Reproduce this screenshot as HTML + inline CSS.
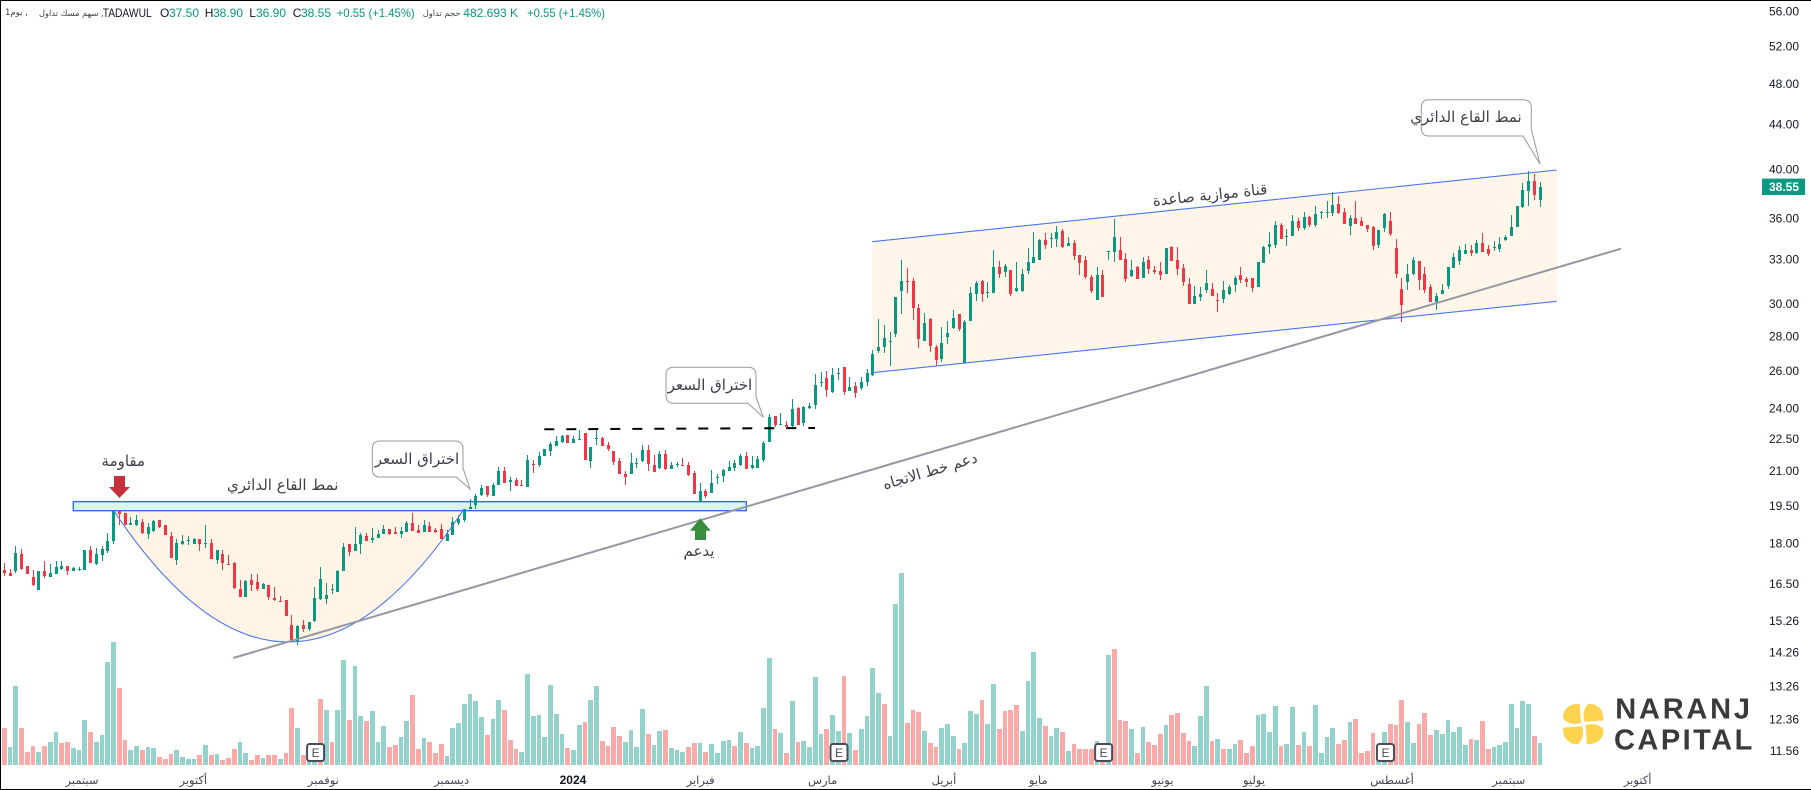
<!DOCTYPE html>
<html lang="ar">
<head>
<meta charset="utf-8">
<title>TADAWUL chart</title>
<style>
html,body{margin:0;padding:0;background:#fff;width:1811px;height:790px;overflow:hidden}
svg{display:block;font-family:"Liberation Sans","DejaVu Sans",sans-serif}
.ar{font-family:"DejaVu Sans","Liberation Sans",sans-serif;fill:#3c3f48}
</style>
</head>
<body>
<svg id="chart" xmlns="http://www.w3.org/2000/svg" width="1811" height="790" viewBox="0 0 1811 790">
  <rect x="0" y="0" width="1811" height="790" fill="#ffffff"/>
  <g id="fills">
    <polygon points="872.3,241.7 1556.7,170 1556.7,301.3 872.3,372.7" fill="#fff6e9"/>
    <path d="M114,511 Q289,774 464,509 Z" fill="#fff4e5"/>
    <rect x="73.3" y="501.7" width="673" height="9" fill="#daf3f8" stroke="#2962ff" stroke-width="1.3"/>
  </g>
  <g id="volumes"></g>
  <g id="candles"></g>
  <g id="drawings">
    <path d="M114,511 Q289,774 464,509" fill="none" stroke="#4a76ee" stroke-width="1.1"/>
    <line x1="872.3" y1="241.7" x2="1556.7" y2="170" stroke="#4a76ee" stroke-width="1.1"/>
    <line x1="872.3" y1="372.7" x2="1556.7" y2="301.3" stroke="#4a76ee" stroke-width="1.1"/>
    <line x1="233.3" y1="658" x2="1621" y2="248.7" stroke="#9598a1" stroke-width="2"/>
    <line x1="544.3" y1="429.3" x2="815" y2="428" stroke="#000000" stroke-width="2" stroke-dasharray="10 12"/>
    <polygon points="114,476 125,476 125,487 130,487 119.5,498 109,487 114,487" fill="#c9303e"/>
    <polygon points="700.3,518.3 710.7,530.7 706,530.7 706,540 695,540 695,530.7 690,530.7" fill="#388e3c"/>
    <path d="M380,441 H455 Q463,441 463,449 V468 L470,489 L456,477 H380 Q372.3,477 372.3,469 V449 Q372.3,441 380,441 Z" fill="none" stroke="#9598a1" stroke-width="1"/>
    <path d="M674,367.3 H748 Q756,367.3 756,375 V396.7 L763.3,417.3 L748,403.3 H674 Q666,403.3 666,395 V375 Q666,367.3 674,367.3 Z" fill="none" stroke="#9598a1" stroke-width="1"/>
    <path d="M1429,99.7 H1523 Q1531.3,99.7 1531.3,108 V129 L1540,164 L1523,136 H1429 Q1421.3,136 1421.3,128 V108 Q1421.3,99.7 1429,99.7 Z" fill="none" stroke="#9598a1" stroke-width="1"/>
    <text class="ar" x="417" y="459" font-size="15" text-anchor="middle" dominant-baseline="central">اختراق السعر</text>
    <text class="ar" x="710" y="385" font-size="15" text-anchor="middle" dominant-baseline="central">اختراق السعر</text>
    <text class="ar" x="1466" y="117" font-size="15" text-anchor="middle" dominant-baseline="central">نمط القاع الدائري</text>
    <text class="ar" x="123.3" y="461" font-size="15" text-anchor="middle" dominant-baseline="central">مقاومة</text>
    <text class="ar" x="282.7" y="485" font-size="15" text-anchor="middle" dominant-baseline="central">نمط القاع الدائري</text>
    <text class="ar" x="699" y="551" font-size="15" text-anchor="middle" dominant-baseline="central">يدعم</text>
    <text class="ar" x="930" y="471" font-size="15" text-anchor="middle" dominant-baseline="central" transform="rotate(-16.4 930 471)">دعم خط الاتجاه</text>
    <text class="ar" x="1210" y="195" font-size="15" text-anchor="middle" dominant-baseline="central" transform="rotate(-6 1210 195)">قناة موازية صاعدة</text>
  </g>
  <g id="earnings"></g>
  <g id="price-axis"></g>
  <g id="time-axis"></g>
  <g font-size="12" fill="#131722">
    <text class="ar" x="5" y="13" font-size="8.5" dominant-baseline="central">1يوم ,</text>
    <text class="ar" x="39" y="13" font-size="8.3" dominant-baseline="central">سهم مسك تداول ,</text>
    <text x="102.7" y="13" dominant-baseline="central" textLength="49" lengthAdjust="spacingAndGlyphs">TADAWUL</text>
    <text x="160" y="13" dominant-baseline="central">O</text>
    <text x="169" y="13" fill="#089981" dominant-baseline="central">37.50</text>
    <text x="204.7" y="13" dominant-baseline="central">H</text>
    <text x="213" y="13" fill="#089981" dominant-baseline="central">38.90</text>
    <text x="249.3" y="13" dominant-baseline="central">L</text>
    <text x="256" y="13" fill="#089981" dominant-baseline="central">36.90</text>
    <text x="292.7" y="13" dominant-baseline="central">C</text>
    <text x="301" y="13" fill="#089981" dominant-baseline="central">38.55</text>
    <text x="336.7" y="13" fill="#089981" dominant-baseline="central" textLength="78" lengthAdjust="spacingAndGlyphs">+0.55 (+1.45%)</text>
    <text class="ar" x="422.7" y="13" font-size="8.3" dominant-baseline="central">حجم تداول</text>
    <text x="463.3" y="13" fill="#089981" dominant-baseline="central">482.693 K</text>
    <text x="527" y="13" fill="#089981" dominant-baseline="central" textLength="78" lengthAdjust="spacingAndGlyphs">+0.55 (+1.45%)</text>
  </g>
  <g>
    <g transform="translate(1583.3 724)" fill="#fdd24e">
      <path d="M1.5,-2 C-1,-9 0,-15 5,-20 C14,-21 21,-14 20,-3.5 C13,-3 6,-3 1.5,-2Z"/>
      <path transform="rotate(90)" d="M1.5,-2 C-1,-9 0,-15 5,-20 C14,-21 21,-14 20,-3.5 C13,-3 6,-3 1.5,-2Z"/>
      <path transform="rotate(180)" d="M1.5,-2 C-1,-9 0,-15 5,-20 C14,-21 21,-14 20,-3.5 C13,-3 6,-3 1.5,-2Z"/>
      <path transform="rotate(270)" d="M1.5,-2 C-1,-9 0,-15 5,-20 C14,-21 21,-14 20,-3.5 C13,-3 6,-3 1.5,-2Z"/>
    </g>
    <text x="1615.3" y="718.3" font-size="29" font-weight="700" fill="#3a3a3a" textLength="134.7" lengthAdjust="spacing">NARANJ</text>
    <text x="1614" y="749.3" font-size="29" font-weight="700" fill="#3a3a3a" textLength="138.3" lengthAdjust="spacing">CAPITAL</text>
  </g>
  <g fill="#000000">
    <rect x="0" y="0" width="1" height="790"/>
    <rect x="0" y="0" width="1811" height="1"/>
    <rect x="0" y="789" width="1811" height="1"/>
  </g>
</svg>
<script>
const opens = [
17.00,16.88,16.96,17.60,17.17,16.75,16.29,16.96,16.76,16.85,
17.06,17.17,16.98,17.02,17.00,17.75,17.22,17.55,17.71,18.09,
19.29,19.21,18.74,18.72,18.83,18.38,18.48,18.92,18.72,18.29,
17.37,17.96,18.09,17.97,18.17,17.99,18.01,17.37,17.59,17.22,
17.25,16.33,16.07,16.64,16.57,16.33,16.47,16.02,15.91,15.95,
15.11,14.61,15.11,14.99,15.26,15.97,15.98,16.30,16.22,16.96,
17.97,17.71,17.97,18.29,18.12,18.21,18.36,18.56,18.44,18.36,
18.44,18.80,18.52,18.44,18.68,18.51,18.56,18.09,
18.33,18.79,18.92,19.36,19.53,19.94,20.34,19.92,20.39,21.01,
20.54,20.60,20.39,20.30,21.32,21.27,21.69,21.92,22.16,22.35,
22.68,22.30,22.44,22.78,21.46,22.47,22.54,22.20,21.92,21.46,
20.87,20.87,21.33,21.46,21.97,21.27,21.14,21.78,21.09,21.27,
21.29,21.27,20.90,19.70,20.13,20.04,20.69,20.78,21.01,21.14,
21.26,21.69,21.14,21.14,21.50,22.35,23.62,23.18,23.18,23.13,
24.02,23.28,24.02,24.18,25.35,25.62,24.86,25.83,26.23,24.92,
25.19,
25.08,25.42,25.80,27.14,27.37,27.67,28.15,30.85,31.52,31.52,
29.76,27.73,29.06,27.37,26.69,27.97,28.51,29.38,26.44,28.94,
30.66,31.52,30.72,30.72,32.48,32.13,32.27,30.83,30.85,32.20,
32.75,32.96,34.40,34.47,34.47,35.06,33.96,34.18,33.31,32.96,
31.80,30.27,31.93,33.55,33.53,33.67,33.03,31.85,32.47,31.71,
32.96,32.26,32.19,31.99,33.91,32.96,32.40,31.31,30.00,30.46,
30.91,30.98,30.26,30.33,30.65,31.25,31.92,31.65,31.71,31.11,
32.75,33.89,34.03,35.51,34.60,34.70,35.82,35.29,36.13,35.51,
36.45,36.45,36.45,37.15,36.51,35.44,36.05,35.82,35.52,35.37,
34.03,35.29,35.82,33.82,30.98,31.45,31.99,32.89,31.99,31.11,
30.13,30.65,31.18,32.40,32.89,33.38,33.67,33.45,34.18,33.74,
33.84,33.74,34.40,34.69,35.37,36.91,38.20,39.02,37.50];
const highs = [
17.25,17.06,17.90,17.79,17.17,17.02,16.96,17.33,17.22,17.33,
17.33,17.17,17.12,17.12,17.75,17.90,17.82,17.90,18.40,19.29,
19.29,19.21,19.03,19.12,18.98,18.79,18.92,18.92,18.72,18.43,
18.17,18.32,18.29,18.19,18.17,18.72,18.17,17.75,17.75,17.55,
17.30,16.66,16.66,16.85,16.85,16.53,16.47,16.40,16.08,15.95,
15.44,15.11,15.28,15.22,16.40,17.11,16.53,16.50,17.00,18.00,
17.97,18.64,18.40,18.40,18.60,18.52,18.72,18.56,18.64,18.63,
18.88,19.21,18.72,18.92,18.84,18.60,18.76,18.52,
19.05,19.12,19.39,19.78,19.99,20.41,20.34,20.46,21.18,21.18,
20.73,20.69,20.60,21.76,21.50,21.86,22.00,22.35,22.63,22.68,
22.68,22.63,22.93,22.78,22.11,22.93,22.60,22.35,21.92,21.59,
21.01,21.83,21.59,22.20,22.20,21.72,21.92,21.97,21.41,21.41,
21.59,21.41,21.01,20.47,20.21,21.05,20.87,21.09,21.46,21.50,
21.78,21.88,21.69,21.69,22.39,23.72,23.62,23.77,23.37,24.49,
24.07,24.12,24.28,25.83,25.95,26.00,26.17,26.17,26.23,25.67,
25.40,
25.70,26.12,27.20,29.06,28.69,28.27,30.47,32.96,32.41,31.70,
30.01,29.44,29.13,27.50,28.57,28.94,29.63,29.38,29.00,31.12,
31.52,31.59,31.46,33.67,32.89,32.68,32.27,32.82,32.34,33.82,
34.99,34.45,34.91,34.91,35.44,35.21,34.62,34.40,33.31,33.24,
31.93,32.48,32.27,33.60,35.97,34.62,33.46,32.96,32.54,33.17,
33.24,32.54,32.82,33.81,33.96,33.89,32.68,31.71,31.18,31.11,
32.26,31.38,30.72,31.51,31.25,31.85,32.47,31.78,31.71,32.82,
33.96,34.99,35.82,35.66,35.21,36.28,36.05,36.53,36.20,37.01,
36.59,37.38,38.11,37.78,36.83,36.28,37.39,36.13,35.52,35.44,
35.14,36.44,36.51,34.47,31.72,32.68,33.17,32.89,32.47,31.31,
30.71,31.31,32.45,33.45,33.96,34.11,34.03,34.40,34.92,34.03,
34.33,34.62,34.77,36.28,36.99,38.85,39.86,39.60,38.90];
const lows = [
16.78,16.78,16.88,17.02,16.85,16.43,16.29,16.71,16.75,16.85,
17.02,16.82,16.96,16.96,17.00,17.25,17.18,17.34,17.62,17.97,
18.72,18.72,18.71,18.68,18.36,18.17,18.44,18.60,18.32,17.44,
17.18,17.93,17.93,17.96,17.71,17.82,17.40,17.22,17.00,17.18,
16.33,16.05,16.05,16.26,16.26,16.32,15.95,15.91,15.88,15.41,
14.59,14.48,14.89,14.92,15.21,15.95,15.81,16.16,16.21,16.96,
17.52,17.71,17.60,18.09,18.01,18.21,18.35,18.32,18.36,18.21,
18.43,18.48,18.39,18.44,18.44,18.39,18.17,18.09,
18.33,18.72,18.85,19.36,19.39,19.92,19.87,19.91,20.39,20.47,
20.13,20.34,20.34,20.30,20.91,21.20,21.69,21.69,22.16,22.30,
22.30,22.30,22.44,21.50,21.14,22.20,22.16,21.92,21.27,20.87,
20.39,20.87,21.15,21.41,21.01,20.96,21.09,21.05,21.09,21.18,
21.23,20.78,20.00,19.70,19.83,20.04,20.43,20.51,21.01,21.01,
21.23,21.09,21.09,21.14,21.41,22.35,23.08,23.18,23.06,23.06,
23.18,23.13,23.97,23.97,25.13,24.60,24.81,25.51,24.70,24.92,
24.55,
24.98,25.20,25.75,27.03,27.03,26.29,27.99,29.38,30.72,29.00,
27.32,27.73,27.09,26.29,26.52,27.55,28.45,28.33,26.44,28.94,
30.21,30.14,30.40,30.72,31.73,31.80,30.53,30.79,30.79,32.00,
32.75,32.96,33.74,33.82,33.89,33.82,33.96,32.96,31.93,31.66,
30.72,30.27,30.47,32.96,32.82,32.96,31.45,31.78,31.65,31.71,
31.99,31.99,31.58,31.99,32.89,31.92,31.18,30.00,30.00,30.20,
30.72,30.52,29.50,30.07,30.59,30.78,31.38,31.11,30.78,31.11,
32.75,33.38,33.81,34.47,33.96,34.70,35.07,35.14,35.36,35.36,
35.97,36.05,36.20,36.36,35.60,34.77,35.60,35.44,34.99,33.67,
33.82,34.99,34.69,31.72,28.86,30.91,31.92,30.91,30.71,30.13,
29.62,30.65,30.98,32.40,32.61,33.38,33.24,33.38,33.52,33.24,
33.60,33.52,34.33,34.69,35.37,36.83,36.99,37.47,36.90];
const closes = [
16.88,16.80,17.62,17.06,16.87,16.47,16.96,16.78,16.88,17.11,
17.17,16.96,17.07,17.06,17.75,17.26,17.60,17.77,18.09,19.29,
19.16,18.74,18.82,18.92,18.39,18.64,18.88,18.64,18.32,17.44,
18.01,18.09,18.12,18.17,17.97,18.01,17.40,17.74,17.26,17.18,
16.35,16.05,16.60,16.47,16.33,16.50,16.05,15.95,15.88,15.41,
14.61,15.08,14.99,15.21,16.02,16.67,16.12,16.33,16.96,17.86,
17.67,17.97,18.32,18.09,18.21,18.36,18.56,18.36,18.36,18.48,
18.80,18.48,18.40,18.72,18.44,18.44,18.17,18.36,
18.86,18.96,19.37,19.46,19.92,20.24,19.95,20.37,21.01,20.47,
20.59,20.34,20.36,21.50,21.27,21.67,22.00,22.24,22.39,22.63,
22.30,22.49,22.47,21.50,22.11,22.52,22.16,22.02,21.41,20.87,
20.73,21.36,21.38,21.97,21.32,20.96,21.78,21.09,21.26,21.32,
21.26,20.82,20.00,20.13,19.91,20.47,20.73,21.05,21.18,21.36,
21.69,21.09,21.27,21.55,22.30,23.57,23.18,23.22,23.08,23.97,
23.18,24.07,24.12,25.24,25.40,24.97,25.78,25.89,24.86,25.13,
24.81,
25.42,25.90,26.97,27.37,27.91,27.73,30.47,31.52,31.46,29.76,
27.85,28.81,27.44,26.63,27.61,28.21,29.13,28.45,28.88,30.72,
31.39,30.66,30.79,32.48,32.00,32.54,30.66,31.05,32.00,32.82,
33.16,34.40,34.03,34.55,34.99,33.89,34.18,33.24,32.75,31.80,
30.85,31.93,30.47,33.60,34.62,32.96,31.65,32.26,31.65,32.82,
32.33,32.12,31.92,33.81,32.89,32.33,31.45,30.00,30.52,30.65,
31.38,30.52,30.20,30.91,31.11,31.71,31.58,31.45,31.04,32.82,
33.89,34.10,35.51,34.47,34.70,35.82,35.29,36.13,35.51,36.36,
36.52,36.52,37.07,36.44,35.60,36.05,35.60,35.44,35.22,33.96,
35.14,36.36,34.84,31.99,29.94,31.99,32.96,31.58,30.91,30.13,
30.52,30.91,32.45,33.17,33.67,33.67,33.45,34.18,33.52,33.38,
33.89,34.11,34.62,35.37,36.99,38.28,39.02,37.87,38.55];
const volumes = [
111,54,237,111,39,57,39,57,69,99,66,69,51,45,135,99,69,90,309,369,
231,75,45,57,45,54,51,24,18,33,45,24,18,18,30,60,30,33,15,21,
48,69,36,15,30,21,30,30,18,36,171,111,30,25,10,198,165,69,165,315,
135,297,147,132,162,69,117,54,60,84,132,210,48,81,69,36,63,27,
111,126,183,213,192,144,90,138,195,165,75,48,39,273,147,150,84,240,153,93,
51,45,120,129,195,237,72,57,114,87,69,105,54,168,93,60,102,105,51,45,
39,54,66,66,39,63,36,72,75,57,99,66,51,57,171,321,108,96,36,192,
69,72,54,264,93,108,150,102,267,96,45,108,147,291,216,183,87,
483,576,126,165,159,102,66,54,111,123,87,48,66,162,153,195,123,243,108,162,
165,180,102,252,339,141,117,87,111,99,42,63,48,48,48,72,45,330,348,135,
132,108,36,114,69,60,93,120,150,156,96,72,57,147,237,72,78,48,48,63,
75,36,57,150,153,99,177,57,63,174,60,99,57,180,36,84,111,63,75,129,138,
36,42,96,30,99,123,120,195,129,66,123,156,90,105,93,135,99,114,60,78,
75,132,48,54,60,69,183,111,192,183,87,66];
const volumeDirections = [
"DUUDDDUDUU","DDUUUDUUUU","DDUUDUUDDD","UUUUDUDUDD","DUUDDUDDUD","DUDUUDUDUU","DUUDUUUDDU","UDDUDDDU",
"UUUUUUDUUD","DDUUUUUUUU","DUUDUUDDDD","UUUUDUUDUU","UDDUDUUUUD","UDUUUUDUDU","DUUUUDUUDU","DUUUUDU",
"UUDDDUDDUU","UDUUUDUUDD","DDUUUUDUUD","UDDDDUDUDD","DUDUDDDUDD","DDUUUDUDUU","DDDUUUUDUU","DUDUUUUDDU",
"DDDDUUDDDU","UDDDUUUUUU","DUDDUUUUUU","UDU"].join("");
const priceTicks = [56,52,48,44,40,36,33,30,28,26,24,22.5,21,19.5,18,16.5,15.26,14.26,13.26,12.36,11.56];
const timeLabels = ["سبتمبر","أكتوبر","نوفمبر","ديسمبر","2024","فبراير","مارس","أبريل","مايو","يونيو","يوليو","أغسطس","سبتمبر","أكتوبر"];
const timeTickBars = [13.45,32.8,55.4,77.7,98.8,121,142.2,163.3,179.7,201.3,217.2,241.2,261.5,283.9];
const earningsBars = [54,145,191,240];

const NS = "http://www.w3.org/2000/svg";
const UP = "#089981", DOWN = "#f23645", VOL_UP = "#93d3cb", VOL_DOWN = "#f8a9a8";
function barCenter(i){ return 4.67 + 5.752 * i; }
function barLeft(i){ return Math.floor(2.25 + 5.752 * i); }
function priceY(p){ return 169.3 + 468.5 * Math.log(40 / p); }
function volumeY(v){ return 765 - v / 3; }
function make(tag, attrs){
  const node = document.createElementNS(NS, tag);
  for (const key in attrs) node.setAttribute(key, attrs[key]);
  return node;
}
const volumeLayer = document.getElementById("volumes");
const candleLayer = document.getElementById("candles");
const earningsLayer = document.getElementById("earnings");
const priceAxis = document.getElementById("price-axis");
const timeAxis = document.getElementById("time-axis");

volumes.forEach(function(v, i){
  const left = barLeft(i);
  const right = barLeft(i + 1) - 1;
  const top = Math.round(volumeY(v));
  const bar = make("rect", {x: left, y: top, width: right - left, height: 765 - top,
    fill: volumeDirections[i] === "U" ? VOL_UP : VOL_DOWN});
  
  
  volumeLayer.appendChild(bar);
});

opens.forEach(function(o, i){
  const c = closes[i];
  const color = c >= o ? UP : DOWN;
  const left = barLeft(i);
  const yHigh = Math.round(priceY(highs[i]));
  const yLow = Math.round(priceY(lows[i]));
  const yTop = Math.round(priceY(Math.max(o, c)));
  const yBottom = Math.round(priceY(Math.min(o, c)));
  const wick = make("rect", {x: left + 2, y: yHigh, width: 1, height: Math.max(1, yLow - yHigh), fill: color});
  
  
  candleLayer.appendChild(wick);
  const body = make("rect", {x: left + 1, y: yTop, width: 3, height: Math.max(1, yBottom - yTop), fill: color});
  
  
  candleLayer.appendChild(body);
});

earningsBars.forEach(function(b){
  const cx = barCenter(b) + 0.3;
  const box = make("rect", {x: cx - 8.5, y: 744, width: 17, height: 17, rx: 2.5, fill: "#ffffff", stroke: "#4a4d57", "stroke-width": 2});
  
  
  earningsLayer.appendChild(box);
  const letter = make("text", {x: cx, y: 753, "font-size": 12, fill: "#4a4d57", "text-anchor": "middle", "dominant-baseline": "central"});
  
  
  letter.textContent = "E";
  earningsLayer.appendChild(letter);
});

priceTicks.forEach(function(p){
  const label = make("text", {x: 1799, y: priceY(p), "font-size": 12, fill: "#131722", "text-anchor": "end", "dominant-baseline": "central"});
  
  
  label.textContent = p.toFixed(2);
  priceAxis.appendChild(label);
});

const lastClose = closes[closes.length - 1];
const lastY = priceY(lastClose);
const priceTag = make("rect", {x: 1762, y: lastY - 8, width: 43, height: 16.4, fill: UP});


priceAxis.appendChild(priceTag);
const priceTagText = make("text", {x: 1799, y: lastY + 0.4, "font-size": 12, "font-weight": 700, fill: "#ffffff", "text-anchor": "end", "dominant-baseline": "central"});


priceTagText.textContent = lastClose.toFixed(2);
priceAxis.appendChild(priceTagText);

timeLabels.forEach(function(t, i){
  const isYear = /^\d+$/.test(t);
  const label = make("text", {x: barCenter(timeTickBars[i]), y: 780, "font-size": isYear ? 12 : 11.5,
    "font-weight": isYear ? 700 : 400, fill: isYear ? "#131722" : "#434651", "text-anchor": "middle", "dominant-baseline": "central",
    "font-family": isYear ? "Liberation Sans, sans-serif" : "DejaVu Sans, sans-serif"});
  
  
  label.textContent = t;
  timeAxis.appendChild(label);
});
</script>
</body>
</html>
